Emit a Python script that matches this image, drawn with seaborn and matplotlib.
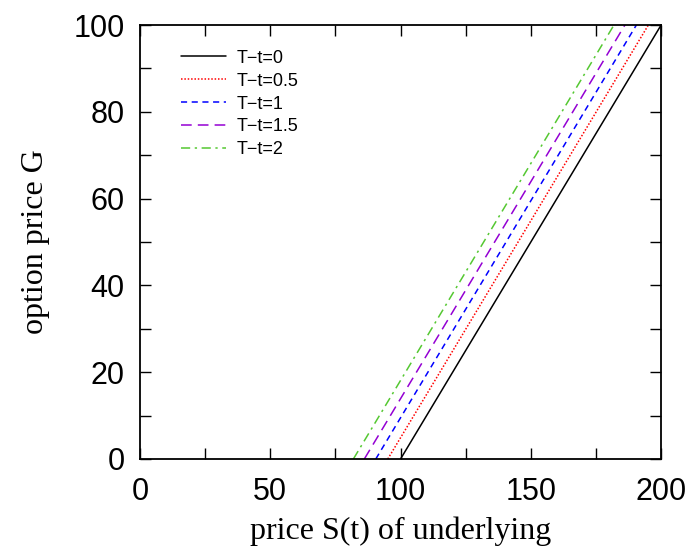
import matplotlib
matplotlib.use("Agg")
import matplotlib.pyplot as plt
import seaborn as sns
import pandas as pd
from matplotlib.ticker import MultipleLocator

# Data: each curve is G = max(S - K_eff, 0), drawn from its kink to S=200
labels = ["T\u2212t=0", "T\u2212t=0.5", "T\u2212t=1", "T\u2212t=1.5", "T\u2212t=2"]
kink_S = [100.0, 95.1, 90.5, 86.1, 81.9]
end_S = [200.0, 200.0, 200.0, 200.0, 200.0]
end_G = [100.0, 104.9, 109.5, 113.9, 118.1]

colors = ["#000000", "#ff0000", "#0000ff", "#9400d3", "#55c832"]
dashes = [(None, None), (1, 1.2), (4, 3), (7, 4), (6, 3, 1.5, 3)]

rows = []
for lab, k, s2, g2 in zip(labels, kink_S, end_S, end_G):
    rows.append({"S": k, "G": 0.0, "series": lab})
    rows.append({"S": s2, "G": g2, "series": lab})
df = pd.DataFrame(rows)

sns.set_theme(style="ticks")
plt.rcParams["font.family"] = ["Liberation Sans", "DejaVu Sans"]
plt.rcParams["text.color"] = "black"
plt.rcParams["xtick.color"] = "black"
plt.rcParams["ytick.color"] = "black"
plt.rcParams["axes.labelcolor"] = "black"

fig = plt.figure(figsize=(6.93, 5.5), dpi=100)
ax = fig.add_axes([0.202, 0.1655, 0.752, 0.789])

for i, lab in enumerate(labels):
    sub = df[df["series"] == lab]
    sns.lineplot(data=sub, x="S", y="G", ax=ax, color=colors[i], lw=1.1,
                 label=lab, sort=False)
    line = ax.get_lines()[-1]
    if dashes[i][0] is not None:
        line.set_dashes(dashes[i])

ax.set_xlim(0, 200)
ax.set_ylim(0, 100)
ax.xaxis.set_major_locator(MultipleLocator(50))
ax.xaxis.set_minor_locator(MultipleLocator(25))
ax.yaxis.set_major_locator(MultipleLocator(20))
ax.yaxis.set_minor_locator(MultipleLocator(10))
ax.tick_params(which="both", direction="in", top=True, right=True, length=8, width=1, color="black")
ax.tick_params(which="minor", length=8)
ax.tick_params(axis="x", labelsize=22, pad=13, labelcolor="black")
ax.tick_params(axis="y", labelsize=22, pad=11, labelcolor="black")
for sp in ax.spines.values():
    sp.set_linewidth(1.3)
    sp.set_color("black")

ax.set_xlabel("price S(t) of underlying", family=["Liberation Serif", "DejaVu Serif"], fontsize=23, labelpad=7)
ax.set_ylabel("option price G", family=["Liberation Serif", "DejaVu Serif"], fontsize=23, labelpad=17)

leg = ax.legend(loc="upper left", frameon=False, fontsize=13, handlelength=2.5,
                handletextpad=0.55, labelspacing=0.33, borderaxespad=0.0,
                bbox_to_anchor=(0.065, 0.96))
for h in leg.get_lines():
    h.set_linewidth(1.1)
for t in leg.get_texts():
    t.set_color("black")

fig.savefig("out.png", dpi=100)
